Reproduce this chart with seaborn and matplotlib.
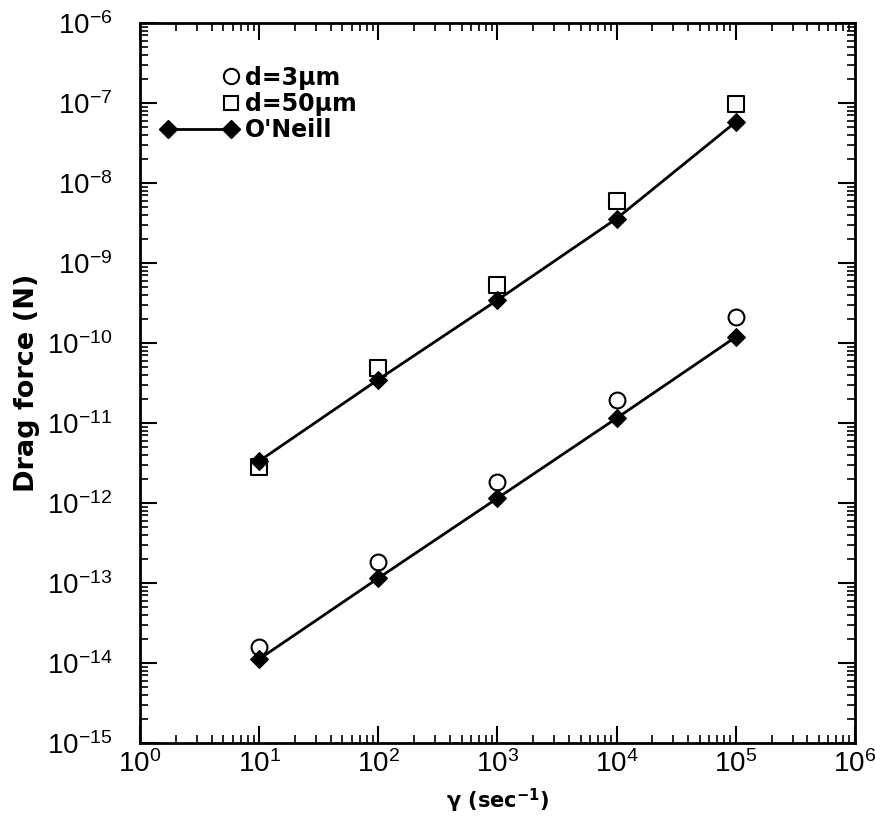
import numpy as np
import pandas as pd
import matplotlib
matplotlib.use("Agg")
import matplotlib.pyplot as plt
import seaborn as sns
from matplotlib.lines import Line2D
from matplotlib.legend_handler import HandlerLine2D
from matplotlib.ticker import LogLocator, NullFormatter, FuncFormatter

# ---- data ----
shear_rate = [1e1, 1e2, 1e3, 1e4, 1e5]
d3_sim = [1.58e-14, 1.83e-13, 1.83e-12, 1.94e-11, 2.1e-10]
d50_sim = [2.8e-12, 4.9e-11, 5.3e-10, 5.96e-9, 9.7e-8]
oneill_d3 = [1.12e-14, 1.15e-13, 1.15e-12, 1.15e-11, 1.19e-10]
oneill_d50 = [3.35e-12, 3.5e-11, 3.45e-10, 3.6e-9, 5.8e-8]
legend_labels = ["d=3\u03bcm", "d=50\u03bcm", "O'Neill"]

sns.set_theme(style="ticks")
plt.rcParams["font.family"] = ["Liberation Sans", "DejaVu Sans"]
plt.rcParams["mathtext.fontset"] = "custom"
plt.rcParams["mathtext.rm"] = "Liberation Sans"
plt.rcParams["mathtext.it"] = "Liberation Sans"
plt.rcParams["mathtext.bf"] = "DejaVu Sans:bold"
plt.rcParams["axes.unicode_minus"] = False
plt.rcParams["text.color"] = "black"
plt.rcParams["axes.labelcolor"] = "black"
plt.rcParams["xtick.color"] = "black"
plt.rcParams["ytick.color"] = "black"

fig = plt.figure(figsize=(8.75, 8.25), dpi=100)
ax = fig.add_axes([0.16, 0.0994, 0.817, 0.8726])

oneill = pd.DataFrame({
    "x": shear_rate * 2,
    "y": oneill_d3 + oneill_d50,
    "grp": ["d3"] * 5 + ["d50"] * 5,
})
sns.lineplot(data=oneill, x="x", y="y", units="grp", estimator=None,
             color="black", lw=2, marker="D", markersize=9,
             markeredgecolor="black", markerfacecolor="black", ax=ax,
             legend=False)

sims = pd.DataFrame({"x": shear_rate, "d3": d3_sim, "d50": d50_sim})
sns.scatterplot(data=sims, x="x", y="d3", marker="o", s=130,
                facecolor="white", edgecolor="black", linewidth=1.5, ax=ax,
                zorder=1, legend=False)
sns.scatterplot(data=sims, x="x", y="d50", marker="s", s=120,
                facecolor="white", edgecolor="black", linewidth=1.5, ax=ax,
                zorder=1, legend=False)

ax.set_xscale("log")
ax.set_yscale("log")
ax.set_xlim(1, 1e6)
ax.set_ylim(1e-15, 1e-6)

fmt = FuncFormatter(lambda v, p: r"$\mathregular{10^{%d}}$" % int(round(np.log10(v))))
for axis in (ax.xaxis, ax.yaxis):
    axis.set_major_locator(LogLocator(base=10, numticks=20))
    axis.set_minor_locator(LogLocator(base=10, subs=np.arange(2, 10), numticks=20))
    axis.set_minor_formatter(NullFormatter())
    axis.set_major_formatter(fmt)

ax.tick_params(which="major", direction="in", length=12, width=1.5,
               top=True, right=True, labelsize=20, colors="black")
ax.tick_params(which="minor", direction="in", length=6, width=1.2,
               top=True, right=True)
ax.tick_params(axis="x", which="major", pad=5)
ax.tick_params(axis="y", which="major", pad=20)
for s in ax.spines.values():
    s.set_linewidth(2)
    s.set_color("black")

ax.set_xlabel("\u03b3 (sec$^{\\mathbf{-1}}$)", fontsize=15, fontweight="bold",
              family="DejaVu Sans", labelpad=6)
ax.set_ylabel("Drag force (N)", fontsize=19.5, fontweight="bold",
              family="DejaVu Sans", labelpad=5)


class RightMarker(HandlerLine2D):
    def get_xdata(self, legend, xdescent, ydescent, width, height, fontsize):
        r = -xdescent + width - 0.3 * fontsize
        return np.array([r, r]), np.array([r])


h_circ = Line2D([], [], ls="none", marker="o", markersize=11,
                markerfacecolor="white", markeredgecolor="black", markeredgewidth=1.5)
h_sq = Line2D([], [], ls="none", marker="s", markersize=10,
              markerfacecolor="white", markeredgecolor="black", markeredgewidth=1.5)
h_line = Line2D([], [], color="black", lw=2, marker="D", markersize=9,
                markerfacecolor="black", markeredgecolor="black")

ax.legend([h_circ, h_sq, h_line], legend_labels,
          handler_map={h_circ: RightMarker(numpoints=1),
                       h_sq: RightMarker(numpoints=1),
                       h_line: HandlerLine2D(numpoints=2)},
          loc="upper left", bbox_to_anchor=(0.016, 0.954), frameon=False,
          prop={"size": 17, "weight": "bold", "family": "DejaVu Sans"},
          handlelength=3.25, handletextpad=0.3, labelspacing=0.1,
          borderaxespad=0)

fig.savefig("out.png", dpi=100)
